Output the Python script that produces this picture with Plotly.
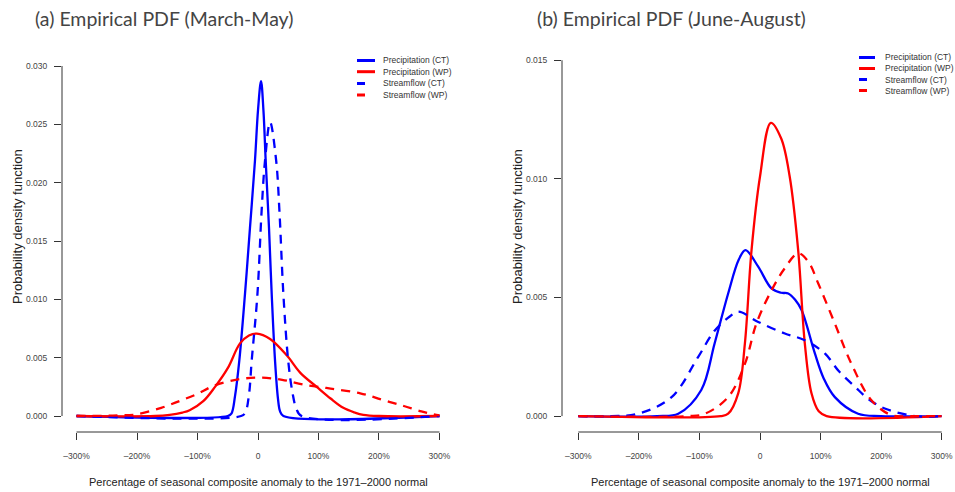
import plotly.graph_objects as go

# ---------------- data ----------------
# Panel (a): March-May
a_pct_x = [-300, -50, -44, -38, -31, -21.6, -13.3, -5, 0, 5, 9, 12.7, 18.2, 22.7, 28.2, 33, 36.5, 42, 300]
a_pct_y = [0, 0, 0.0002, 0.0017, 0.0047, 0.0104, 0.0161, 0.0219, 0.0262, 0.0287, 0.0262, 0.0219, 0.0161, 0.0104, 0.0047, 0.0015, 0.0004, 0, 0]

a_pwp_x = [-300, -170, -146, -125, -113, -90, -71, -50, -30, -15, -2, 20, 47.5, 70, 97, 120, 141, 160, 174, 200, 300]
a_pwp_y = [0, 0, 0.0001, 0.0003, 0.0005, 0.0013, 0.0025, 0.0041, 0.0062, 0.0069, 0.00706, 0.0066, 0.0052, 0.0037, 0.0025, 0.0015, 0.0007, 0.0003, 0.0001, 0, 0]

a_sct_x = [-300, -28, -21, -15, -10.5, -1, 6, 11.6, 20, 30, 35.4, 42, 50, 57, 63, 72, 300]
a_sct_y = [0, 0, 0.0003, 0.0018, 0.0047, 0.0104, 0.0176, 0.0219, 0.0252, 0.0219, 0.0176, 0.0104, 0.0047, 0.0020, 0.0007, 0, 0]

a_swp_x = [-300, -257, -230, -201, -160, -129, -100, -74, -33, 3, 40, 75, 120, 169, 205, 241, 270, 290, 300]
a_swp_y = [0, 0.00002, 0.00006, 0.00014, 0.0007, 0.0013, 0.0019, 0.00257, 0.00314, 0.00329, 0.0031, 0.0027, 0.00235, 0.00195, 0.0014, 0.00086, 0.0004, 0.00014, 0.00005]

# Panel (b): June-August
b_pct_x = [-300, -170, -135, -97, -75, -52.6, -35, -24, -3, 19, 35, 46.6, 58, 68.6, 90.6, 105, 123.6, 162, 200, 300]
b_pct_y = [0, 0, 0.0001, 0.0011, 0.00306, 0.00517, 0.0066, 0.0070, 0.0063, 0.00538, 0.0052, 0.00517, 0.0049, 0.00447, 0.00264, 0.0016, 0.0008, 0.0001, 0, 0]

b_pwp_x = [-300, -65, -52.6, -36, -25, -14, 0, 17.9, 35, 49, 63, 74, 85, 97, 110, 300]
b_pwp_y = [0, 0, 0.0001, 0.00096, 0.00306, 0.0070, 0.0101, 0.01236, 0.0117, 0.0101, 0.0070, 0.00306, 0.00096, 0.0002, 0, 0]

b_sct_x = [-300, -245, -201, -146, -102, -75, -50, -36, -3, 41, 74, 107, 130, 157, 180, 206, 256, 300]
b_sct_y = [0, 0, 0.0001, 0.0008, 0.0025, 0.0036, 0.0042, 0.0044, 0.00397, 0.00348, 0.0032, 0.00264, 0.0019, 0.00123, 0.0007, 0.00032, 0, 0]

b_swp_x = [-300, -120, -91, -52.6, -25, -6, 19, 40, 63, 80, 96, 123.6, 151, 184, 217, 250, 300]
b_swp_y = [0, 0, 0.0001, 0.0008, 0.0022, 0.0039, 0.0053, 0.0062, 0.00686, 0.0065, 0.0056, 0.0039, 0.0022, 0.00067, 0.00004, 0, 0]

series_names = ["Precipitation (CT)", "Precipitation (WP)", "Streamflow (CT)", "Streamflow (WP)"]
x_tickvals = [-300, -200, -100, 0, 100, 200, 300]
x_ticktext = ["\u2013300%", "\u2013200%", "\u2013100%", "0", "100%", "200%", "300%"]
a_yticks = [0, 0.005, 0.010, 0.015, 0.020, 0.025, 0.030]
b_yticks = [0, 0.005, 0.010, 0.015]
titles = ["(a) Empirical PDF (March-May)", "(b) Empirical PDF (June-August)"]
x_title = "Percentage of seasonal composite anomaly to the 1971\u20132000 normal"
y_title = "Probability density function"

# ---------------- styling ----------------
BLUE = "#0000FF"
RED = "#FF0000"
styles = [(BLUE, "solid"), (RED, "solid"), (BLUE, "9px,7px"), (RED, "9px,7px")]
W, H = 955, 492
TXT = "#222222"
TICKC = "#333333"
LW = 2.3


def px(x):
    return x / W


def py(y):
    return 1 - y / H


fig = go.Figure()

panel_data = [
    [(a_pct_x, a_pct_y), (a_pwp_x, a_pwp_y), (a_sct_x, a_sct_y), (a_swp_x, a_swp_y)],
    [(b_pct_x, b_pct_y), (b_pwp_x, b_pwp_y), (b_sct_x, b_sct_y), (b_swp_x, b_swp_y)],
]

for p, data in enumerate(panel_data):
    xa = "x" if p == 0 else "x2"
    ya = "y" if p == 0 else "y2"
    for i, (xs, ys) in enumerate(data):
        col, dash = styles[i]
        fig.add_trace(go.Scatter(
            x=xs, y=ys, mode="lines", name=series_names[i],
            line=dict(color=col, width=LW, dash=dash, shape="spline", smoothing=1.0),
            xaxis=xa, yaxis=ya, showlegend=False, hoverinfo="skip"))

axis_common = dict(showgrid=False, zeroline=False, showline=False, ticks="outside",
                   ticklen=7, tickwidth=1, tickcolor=TICKC,
                   tickfont=dict(family="Liberation Sans, Arial", size=8.5, color="#444444"))

fig.update_layout(
    width=W, height=H, margin=dict(l=0, r=0, t=0, b=0),
    paper_bgcolor="white", plot_bgcolor="white", showlegend=False,
    xaxis=dict(domain=[px(62), px(454)], range=[-324, 324], anchor="y",
               tickvals=x_tickvals, ticktext=x_ticktext, ticklabelstandoff=9, **axis_common),
    yaxis=dict(domain=[py(432), py(52)], range=[-0.00137, 0.0312], anchor="x",
               tickvals=a_yticks, tickformat=".3f", ticklabelstandoff=5, **axis_common),
    xaxis2=dict(domain=[px(562), 1.0], range=[-327, 322], anchor="y2",
                tickvals=x_tickvals, ticktext=x_ticktext, ticklabelstandoff=9, **axis_common),
    yaxis2=dict(domain=[py(432), py(46)], range=[-0.00067, 0.0156], anchor="x2",
                tickvals=b_yticks, tickformat=".3f", ticklabelstandoff=5, **axis_common),
)

shapes = []
annotations = []
# R-style axis lines spanning tick range only
for xr, yr, yt in [("x", "y", a_yticks), ("x2", "y2", b_yticks)]:
    shapes.append(dict(type="line", xref=xr, yref=yr + " domain", x0=x_tickvals[0], x1=x_tickvals[-1],
                       y0=0, y1=0, line=dict(color=TICKC, width=1)))
    shapes.append(dict(type="line", xref=xr + " domain", yref=yr, x0=0, x1=0,
                       y0=yt[0], y1=yt[-1], line=dict(color=TICKC, width=1)))

# titles
for t, tx in zip(titles, [33, 535]):
    annotations.append(dict(text=t, x=px(tx), y=py(18), xref="paper", yref="paper",
                            xanchor="left", yanchor="middle", showarrow=False,
                            font=dict(family="Lato", size=19.5, color="#444444")))

# axis titles
for cx, yx in [(258, 17), (760, 517)]:
    annotations.append(dict(text=x_title, x=px(cx), y=py(482), xref="paper", yref="paper",
                            xanchor="center", yanchor="middle", showarrow=False,
                            font=dict(family="Liberation Sans, Arial", size=11, color=TXT)))
    annotations.append(dict(text=y_title, x=px(yx), y=py(227), xref="paper", yref="paper",
                            xanchor="center", yanchor="middle", showarrow=False, textangle=-90,
                            font=dict(family="Liberation Sans, Arial", size=13, color=TXT)))

# manual legends (R style)
legend_specs = [
    dict(x0=357, solid_len=18, dash_len=8, text_x=381, rows=[60.5, 71.7, 83.5, 95]),
    dict(x0=859, solid_len=16, dash_len=8, text_x=883, rows=[57.5, 68.5, 79.5, 90.5]),
]
for spec in legend_specs:
    for i, name in enumerate(series_names):
        col, dash = styles[i]
        ln = spec["solid_len"] if dash == "solid" else spec["dash_len"]
        yy = spec["rows"][i]
        shapes.append(dict(type="line", xref="paper", yref="paper",
                           x0=px(spec["x0"]), x1=px(spec["x0"] + ln), y0=py(yy), y1=py(yy),
                           line=dict(color=col, width=3)))
        annotations.append(dict(text=name, x=px(spec["text_x"]), y=py(yy), xref="paper", yref="paper",
                                xanchor="left", yanchor="middle", showarrow=False,
                                font=dict(family="Liberation Sans, Arial", size=8.5, color="#333333")))

fig.update_layout(shapes=shapes, annotations=annotations)
fig.write_html("out.html")
